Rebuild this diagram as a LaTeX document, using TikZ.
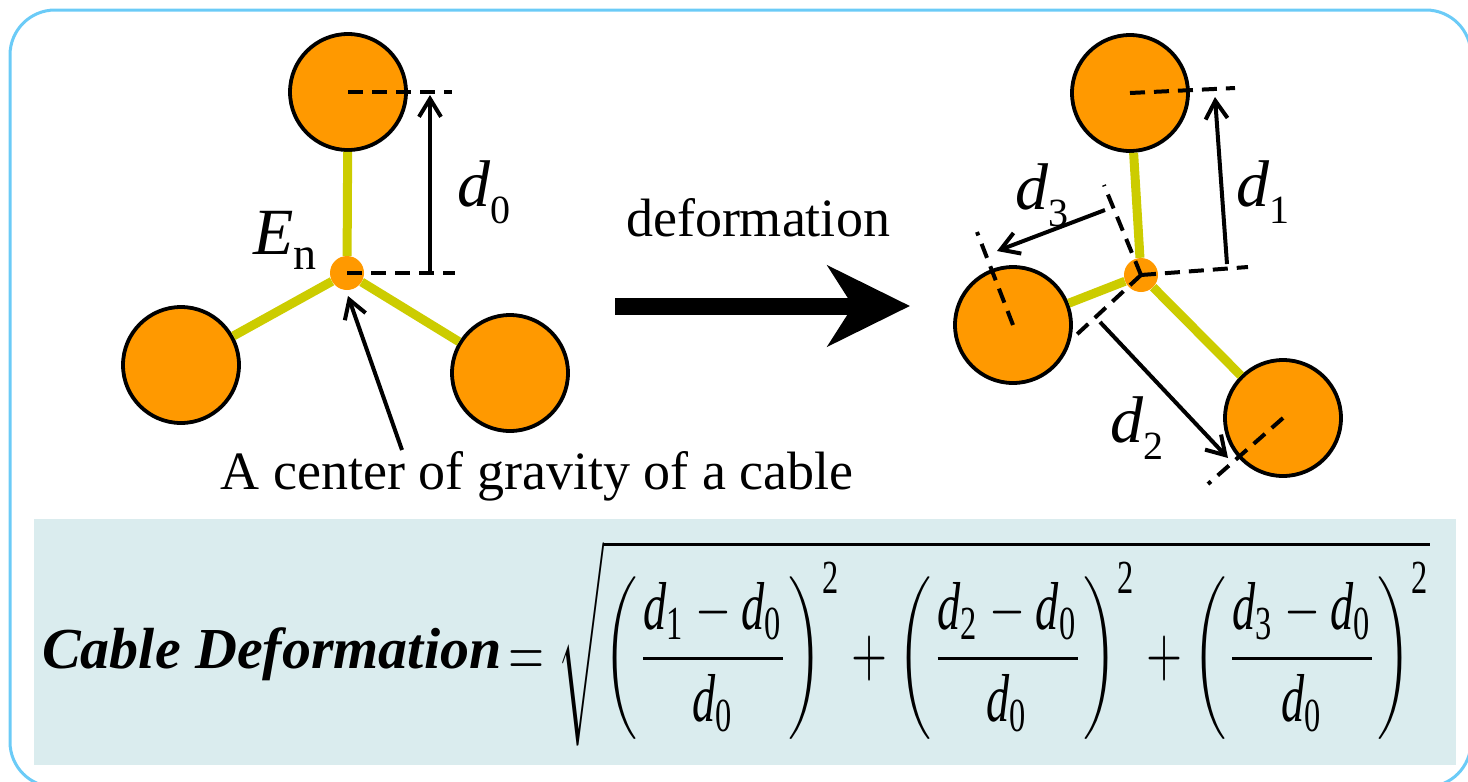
\documentclass[tikz,border=0pt]{standalone}
\usepackage{amsmath}
\usepackage{fontspec}
\setmainfont{Liberation Serif}
\usepackage{tikz}
\usetikzlibrary{arrows.meta}
\definecolor{ballcol}{HTML}{FF9900}
\definecolor{cablecol}{HTML}{CCCC00}
\definecolor{framecol}{HTML}{6BCBF7}
\definecolor{panelcol}{HTML}{DAECEE}
\newcommand{\dvar}[1]{\textit{d}\raisebox{-17pt}{\fontsize{40}{40}\selectfont #1}}
\newcommand{\fd}[1]{\textit{d}_{\text{#1}}}

\begin{document}
\begin{tikzpicture}[x=1pt, y=-1pt,
    ball/.style={circle, draw, line width=3.8, fill=ballcol, minimum size=116, inner sep=0},
    hub/.style={circle, fill=ballcol, minimum size=34, inner sep=0},
    rod/.style={cablecol, line width=9},
    guide/.style={line width=4, dash pattern=on 15pt off 9pt},
    dim/.style={-{Straight Barb[length=18pt,width=22pt]}, line width=4},
    lab/.style={font=\fontsize{66}{70}\selectfont, inner sep=0},
    txt/.style={font=\fontsize{54}{60}\selectfont, inner sep=0}]
    \useasboundingbox (0,0) rectangle (1468,782);
    \draw[framecol, line width=3, rounded corners=45] (10,10) rectangle (1471,787);
    \fill[panelcol] (34,519) rectangle (1456,765);

    \node[ball] (topL) at (348,92) {};
    \node[ball] (leftL) at (181,365) {};
    \node[ball] (rightL) at (510,373) {};
    \node[hub] (cenL) at (347,273) {};
    \draw[rod] (cenL) -- (topL);
    \draw[rod] (cenL) -- (leftL);
    \draw[rod] (cenL) -- (rightL);
    \coordinate (g0a) at (452,92);
    \coordinate (g0b) at (455,273);
    \draw[guide] (topL.center) -- (g0a);
    \draw[guide] (cenL.center) -- (g0b);
    \coordinate (a0s) at (430,272);
    \coordinate (a0e) at (430,95);
    \draw[dim] (a0s) -- (a0e);
    \node[lab] (d0) at (484,192) {\dvar{0}};
    \node[lab] (en) at (285,240) {\textit{E}\raisebox{-15pt}{\fontsize{46}{46}\selectfont n}};
    \node[txt] (cog) at (537,476) {A center of gravity of a cable};
    \coordinate (cogt) at (402,450);
    \coordinate (cogh) at (348,296);
    \draw[dim] (cogt) -- (cogh);

    \node[txt] (defo) at (758,218) {deformation};
    \coordinate (bigS) at (615,306);
    \coordinate (bigE) at (910,306);
    \draw[line width=17, -{Stealth[length=82pt,width=80pt,inset=25pt]}] (bigS) -- (bigE);

    \node[ball] (topR) at (1130,93) {};
    \node[ball] (leftR) at (1013,325) {};
    \node[ball] (rightR) at (1283,418) {};
    \node[hub] (cenR) at (1141,275) {};
    \draw[rod] (cenR) -- (topR);
    \draw[rod] (cenR) -- (leftR);
    \draw[rod] (cenR) -- (rightR);
    \coordinate (g1a) at (1235,88);
    \coordinate (g1b) at (1248,267);
    \draw[guide] (topR.center) -- (g1a);
    \draw[guide] (cenR.center) -- (g1b);
    \coordinate (a1s) at (1227,264);
    \coordinate (a1e) at (1215,97);
    \draw[dim] (a1s) -- (a1e);
    \node[lab] (d1) at (1263,192) {\dvar{1}};
    \coordinate (g3a) at (1104,185);
    \coordinate (g3b) at (977,232);
    \draw[guide] (cenR.center) -- (g3a);
    \draw[guide] (leftR.center) -- (g3b);
    \coordinate (a3s) at (1105,210);
    \coordinate (a3e) at (997,251);
    \draw[dim] (a3s) -- (a3e);
    \node[lab] (d3) at (1042,195) {\dvar{3}};
    \coordinate (g2a) at (1073,338);
    \coordinate (g2b) at (1208,484);
    \draw[guide] (cenR.center) -- (g2a);
    \draw[guide] (rightR.center) -- (g2b);
    \coordinate (a2s) at (1100,322);
    \coordinate (a2e) at (1228,458);
    \draw[dim] (a2s) -- (a2e);
    \node[lab] (d2) at (1137,428) {\dvar{2}};

    \node[anchor=base west, inner sep=0, font=\fontsize{58}{60}\selectfont] (cdef) at (42,668) {\textbf{\textit{Cable Deformation}}};
    \node[anchor=north west, inner sep=0] (root) at (508,540) {\resizebox*{922pt}{206pt}{$\displaystyle =\sqrt{\left(\frac{\fd1-\fd0}{\fd0}\right)^{\text{2}}+\left(\frac{\fd2-\fd0}{\fd0}\right)^{\text{2}}+\left(\frac{\fd3-\fd0}{\fd0}\right)^{\text{2}}}$}};
\end{tikzpicture}
\end{document}
